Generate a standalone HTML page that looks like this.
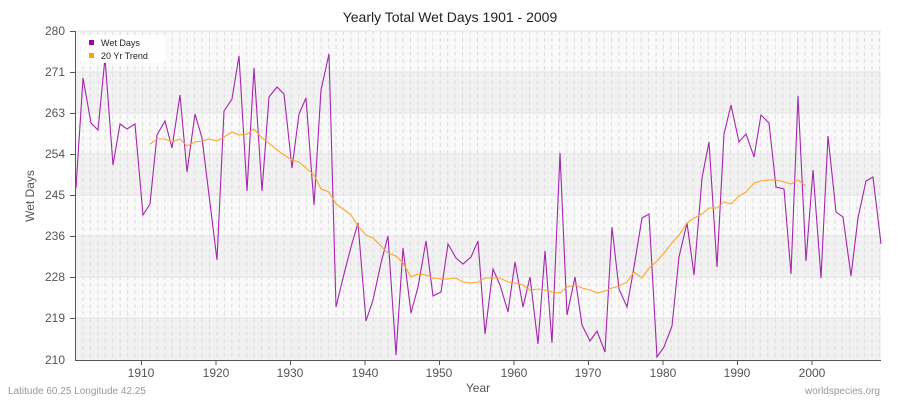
<!DOCTYPE html>
<html><head><meta charset="utf-8"><style>
body{margin:0;background:#fff;}
svg{display:block;font-family:"Liberation Sans",sans-serif;}
</style></head><body>
<svg width="900" height="400" viewBox="0 0 900 400" xmlns="http://www.w3.org/2000/svg">
<defs>
<pattern id="vp" x="75" y="31" width="7.444" height="7" patternUnits="userSpaceOnUse">
<line x1="0.5" y1="0" x2="0.5" y2="4" stroke="#dddddd" stroke-width="1"/>
</pattern>
</defs>
<rect width="900" height="400" fill="#fff"/>
<text x="450" y="22" text-anchor="middle" font-size="14" fill="#222">Yearly Total Wet Days 1901 - 2009</text>
<g>
<rect x="75" y="31" width="806" height="41" fill="#f9f9f9"/>
<rect x="75" y="72" width="806" height="41" fill="#f1f1f1"/>
<rect x="75" y="113" width="806" height="41" fill="#f9f9f9"/>
<rect x="75" y="154" width="806" height="41" fill="#f1f1f1"/>
<rect x="75" y="195" width="806" height="41" fill="#f9f9f9"/>
<rect x="75" y="236" width="806" height="41" fill="#f1f1f1"/>
<rect x="75" y="277" width="806" height="41" fill="#f9f9f9"/>
<rect x="75" y="318" width="806" height="42" fill="#f1f1f1"/>
</g>
<rect x="75" y="31" width="806" height="329" fill="url(#vp)"/>
<g stroke="#e4e4e4" stroke-width="1">
<line x1="75" y1="72" x2="881" y2="72"/><line x1="75" y1="113" x2="881" y2="113"/>
<line x1="75" y1="154" x2="881" y2="154"/><line x1="75" y1="195" x2="881" y2="195"/>
<line x1="75" y1="236" x2="881" y2="236"/><line x1="75" y1="277" x2="881" y2="277"/>
<line x1="75" y1="318" x2="881" y2="318"/><line x1="75" y1="31" x2="881" y2="31"/>
</g>
<g stroke="#555" stroke-width="1">
<line x1="75.5" y1="31" x2="75.5" y2="360"/>
<line x1="75" y1="360.5" x2="881" y2="360.5"/>
<line x1="141.5" y1="360" x2="141.5" y2="365"/><line x1="216" y1="360" x2="216" y2="365"/>
<line x1="290.5" y1="360" x2="290.5" y2="365"/><line x1="365" y1="360" x2="365" y2="365"/>
<line x1="439.5" y1="360" x2="439.5" y2="365"/><line x1="514" y1="360" x2="514" y2="365"/>
<line x1="588.5" y1="360" x2="588.5" y2="365"/><line x1="663" y1="360" x2="663" y2="365"/>
<line x1="737.5" y1="360" x2="737.5" y2="365"/><line x1="812" y1="360" x2="812" y2="365"/>
<line x1="70" y1="31.5" x2="75" y2="31.5"/><line x1="70" y1="72.5" x2="75" y2="72.5"/>
<line x1="70" y1="113.5" x2="75" y2="113.5"/><line x1="70" y1="154.5" x2="75" y2="154.5"/>
<line x1="70" y1="195.5" x2="75" y2="195.5"/><line x1="70" y1="236.5" x2="75" y2="236.5"/>
<line x1="70" y1="277.5" x2="75" y2="277.5"/><line x1="70" y1="318.5" x2="75" y2="318.5"/>
</g>
<g font-size="12" fill="#555" text-anchor="end">
<text x="65" y="35">280</text><text x="65" y="76">271</text><text x="65" y="117">263</text>
<text x="65" y="158">254</text><text x="65" y="199">245</text><text x="65" y="240">236</text>
<text x="65" y="281">228</text><text x="65" y="322">219</text><text x="65" y="364">210</text>
</g>
<g font-size="12" fill="#555" text-anchor="middle">
<text x="141" y="377">1910</text><text x="216" y="377">1920</text><text x="290" y="377">1930</text>
<text x="365" y="377">1940</text><text x="439" y="377">1950</text><text x="514" y="377">1960</text>
<text x="588" y="377">1970</text><text x="663" y="377">1980</text><text x="737" y="377">1990</text>
<text x="812" y="377">2000</text>
</g>
<text x="478" y="392" text-anchor="middle" font-size="12" fill="#555">Year</text>
<text transform="translate(34,196) rotate(-90)" text-anchor="middle" font-size="12" fill="#555">Wet Days</text>
<text x="8" y="394" font-size="10" fill="#999">Latitude 60.25 Longitude 42.25</text>
<text x="880" y="394" text-anchor="end" font-size="10" fill="#999">worldspecies.org</text>
<polyline fill="none" stroke="#a526ad" stroke-width="1.1" points="76,188 83,78 91,123 98,130 105,58 113,165 120,124 127,129 135,124 143,215 150,204 157,135 165,121 172,148 180,95 187,172 195,114 202,138 209,195 217,260 224,111 232,99 239,56 247,191 254,68 262,191 269,97 277,87 284,94 292,168 299,114 306,98 314,205 321,90 329,54 336,307 343,278 351,247 358,223 366,321 373,300 381,263 388,236 396,355 403,248 411,313 418,287 426,241 433,296 441,292 448,244 456,258 463,264 471,257 478,241 485,334 493,269 500,285 508,312 515,262 523,307 530,277 538,344 545,251 552,343 560,153 567,315 575,277 582,325 590,341 597,331 605,352 612,227 619,289 627,307 634,267 642,218 649,214 657,357 664,347 672,326 679,257 687,223 694,275 702,178 709,142 717,267 724,134 731,105 739,142 746,134 754,157 761,115 769,123 776,187 784,189 791,274 798,96 806,261 813,170 821,278 828,136 836,212 843,217 851,276 858,218 866,181 873,177 881,244"/>
<polyline fill="none" stroke="#ffa52a" stroke-width="1.1" points="150,144 157,139 165,139 172,142 180,139 187,146 195,142 202,141 209,139 217,141 224,137 232,132 239,135 247,134 254,129 262,138 269,143 277,150 284,155 292,160 299,162 306,168 314,175 321,189 329,192 336,204 343,209 351,215 358,226 366,235 373,238 381,246 388,253 396,256 403,263 411,277 418,274 426,275 433,278 441,279 448,279 456,278 463,282 471,283 478,282 485,278 493,278 500,278 508,282 515,283 523,285 530,290 538,289 545,290 552,292 560,293 567,287 575,285 582,288 590,290 597,293 605,291 612,288 619,286 627,282 634,272 642,278 649,268 657,261 664,253 672,243 679,235 687,223 694,218 702,214 709,208 717,208 724,202 731,204 739,196 746,192 754,183 761,181 769,180 776,180 784,182 791,184 798,180 806,186"/>
<rect x="81" y="35" width="85" height="28" rx="4" fill="#fff" fill-opacity="0.9"/>
<rect x="89" y="40" width="5" height="5" fill="#a000a8"/>
<text x="101" y="46" font-size="9" fill="#222">Wet Days</text>
<rect x="89" y="53" width="5" height="5" fill="#ffa000"/>
<text x="101" y="59" font-size="9" fill="#222">20 Yr Trend</text>
</svg>
</body></html>
